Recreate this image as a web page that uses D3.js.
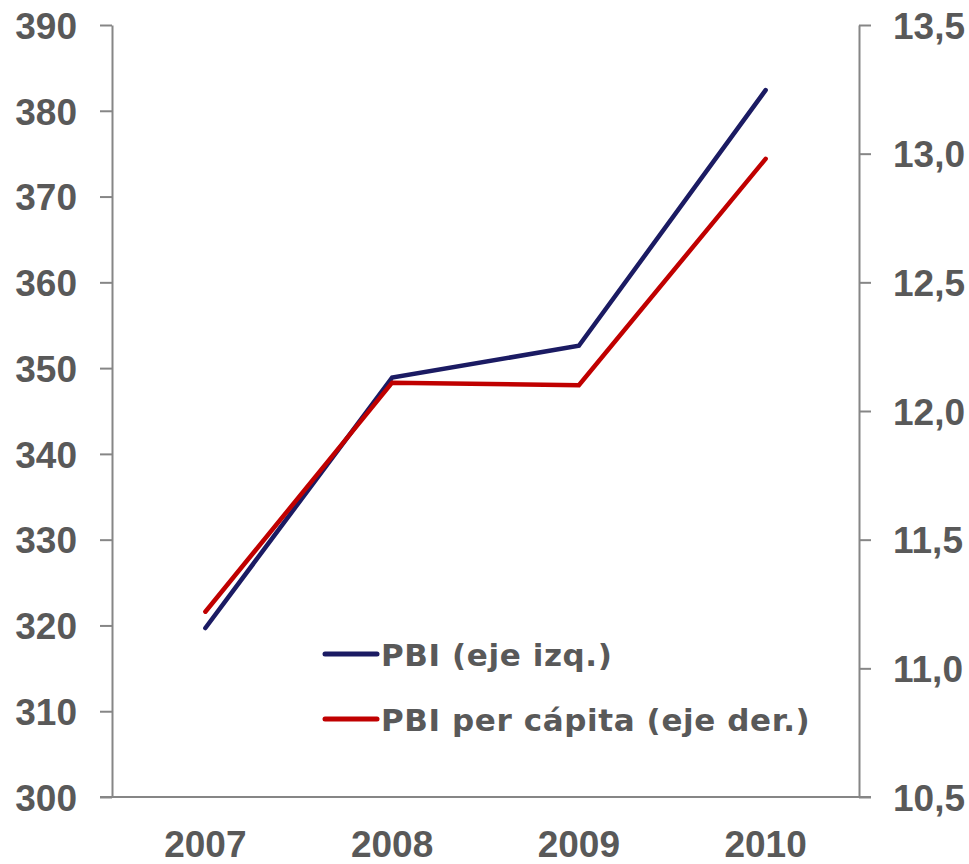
<!DOCTYPE html>
<html>
<head>
<meta charset="utf-8">
<script src="https://cdn.jsdelivr.net/npm/d3@7"></script>
<style>
  body { margin: 0; background: #fff; }
  .axis text { font-family: "Liberation Sans", Arial, sans-serif; font-weight: bold; font-size: 37px; fill: #595959; }
  .axis path, .axis line { stroke: #868686; stroke-width: 2px; }
  .legend text { font-family: "DejaVu Sans", sans-serif; font-weight: bold; font-size: 31px; letter-spacing: 0.6px; fill: #595959; }
</style>
</head>
<body>
<div id="chart"></div>
<script>
var years = ["2007", "2008", "2009", "2010"];
var pbi = [319.7, 348.9, 352.6, 382.4];
var pbiPerCapita = [11.22, 12.11, 12.10, 12.98];
var leftTicks = [300, 310, 320, 330, 340, 350, 360, 370, 380, 390];
var rightTicks = [10.5, 11.0, 11.5, 12.0, 12.5, 13.0, 13.5];
var seriesNames = ["PBI (eje izq.)", "PBI per cápita (eje der.)"];
var colors = ["#1b1b63", "#c00000"];

var margin = { top: 25, right: 110, bottom: 67, left: 112 };
var width = 969 - margin.left - margin.right;
var height = 864 - margin.top - margin.bottom;

var svg = d3.select("#chart")
  .append("svg")
  .attr("width", 969)
  .attr("height", 864)
  .append("g")
  .attr("transform", "translate(" + margin.left + "," + margin.top + ")");

var x = d3.scaleBand()
  .range([0, width])
  .domain(years);

var yLeft = d3.scaleLinear()
  .range([height, 0])
  .domain([300, 390]);

var yRight = d3.scaleLinear()
  .range([height, 0])
  .domain([10.5, 13.5]);

var fmt = d3.formatLocale({ decimal: ",", thousands: ".", grouping: [3], currency: ["", ""] }).format(".1f");

svg.append("g")
  .attr("class", "axis")
  .call(d3.axisLeft(yLeft).tickValues(leftTicks).tickSize(12).tickSizeOuter(0).tickPadding(23))
  .selectAll("text").attr("dy", "0.36em");

svg.append("g")
  .attr("class", "axis")
  .attr("transform", "translate(" + width + ",0)")
  .call(d3.axisRight(yRight).tickValues(rightTicks).tickFormat(fmt).tickSize(12).tickSizeOuter(0).tickPadding(22))
  .selectAll("text").attr("dy", "0.36em");

var xAxis = svg.append("g")
  .attr("class", "axis")
  .attr("transform", "translate(0," + height + ")")
  .call(d3.axisBottom(x).tickSize(0).tickSizeOuter(0).tickPadding(34));
xAxis.select(".domain").remove();
xAxis.selectAll("text").attr("dy", "0.71em");

// baseline runs through the 300 / 10,5 ticks
svg.append("line")
  .attr("x1", -12).attr("x2", width + 12)
  .attr("y1", height).attr("y2", height)
  .style("stroke", "#868686")
  .style("stroke-width", 2);

var lineLeft = d3.line()
  .x(function(d, i) { return x(years[i]) + x.bandwidth() / 2; })
  .y(function(d) { return yLeft(d); });

var lineRight = d3.line()
  .x(function(d, i) { return x(years[i]) + x.bandwidth() / 2; })
  .y(function(d) { return yRight(d); });

svg.append("path")
  .datum(pbi)
  .attr("d", lineLeft)
  .style("fill", "none")
  .style("stroke", colors[0])
  .style("stroke-width", 4.5)
  .style("stroke-linecap", "round");

svg.append("path")
  .datum(pbiPerCapita)
  .attr("d", lineRight)
  .style("fill", "none")
  .style("stroke", colors[1])
  .style("stroke-width", 4.5)
  .style("stroke-linecap", "round");

var legend = svg.append("g")
  .attr("class", "legend")
  .attr("transform", "translate(" + (323 - margin.left) + "," + (654 - margin.top) + ")");

seriesNames.forEach(function(name, i) {
  var g = legend.append("g").attr("transform", "translate(0," + (i * 65) + ")");
  g.append("line")
    .attr("x1", 2).attr("x2", 54)
    .attr("y1", 0).attr("y2", 0)
    .style("stroke", colors[i])
    .style("stroke-width", 5)
    .style("stroke-linecap", "round");
  g.append("text")
    .attr("x", 58)
    .attr("y", 12)
    .text(name);
});
</script>
</body>
</html>
